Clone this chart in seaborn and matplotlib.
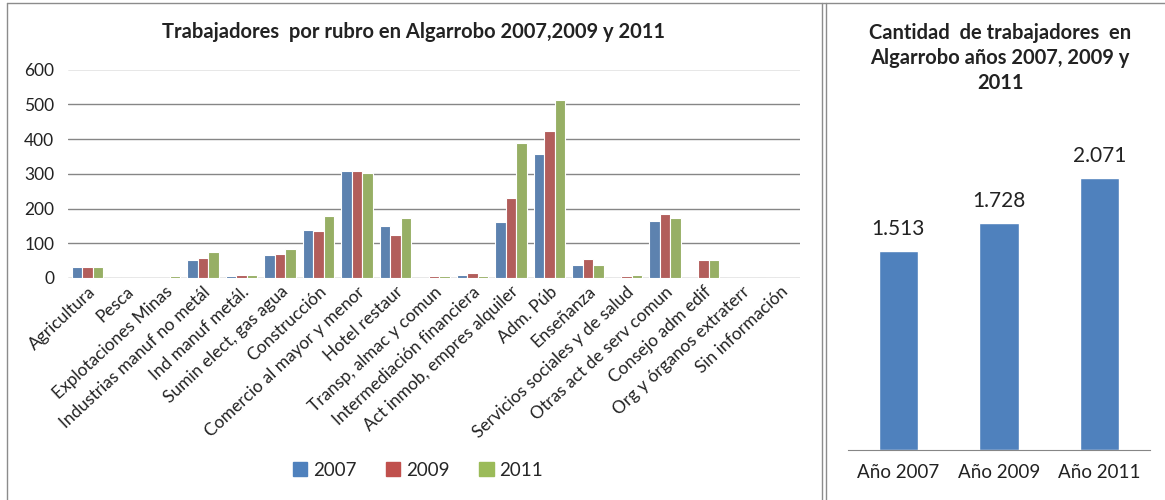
import pandas as pd
import seaborn as sns
import matplotlib.pyplot as plt
from matplotlib.patches import Rectangle
from matplotlib.lines import Line2D

rubros = ['Agricultura', 'Pesca', 'Explotaciones Minas', 'Industrias manuf no metál',
          'Ind manuf metál.', 'Sumin elect, gas agua', 'Construcción',
          'Comercio al mayor y menor', 'Hotel restaur', 'Transp, almac y comun',
          'Intermediación financiera', 'Act inmob, empres alquiler', 'Adm. Púb',
          'Enseñanza', 'Servicios sociales y de salud', 'Otras act de serv comun',
          'Consejo adm edif', 'Org y órganos extraterr', 'Sin información']
v2007 = [33, 0, 0, 52, 5, 65, 138, 307, 151, 0, 10, 160, 356, 37, 0, 165, 0, 0, 0]
v2009 = [33, 0, 0, 57, 10, 70, 134, 307, 124, 6, 15, 229, 424, 55, 5, 183, 52, 0, 0]
v2011 = [33, 0, 5, 74, 10, 83, 179, 301, 174, 5, 5, 389, 511, 37, 8, 174, 52, 0, 0]
years = ['2007', '2009', '2011']

anios = ['Año 2007', 'Año 2009', 'Año 2011']
totales = [1513, 1728, 2071]
total_labels = ['1.513', '1.728', '2.071']

colors = ['#4F81BD', '#C0504D', '#9BBB59']

sns.set_style('white')
plt.rcParams['font.family'] = ['Lato', 'DejaVu Sans']

df = pd.DataFrame({'rubro': rubros * 3,
                   'valor': v2007 + v2009 + v2011,
                   'anio': [y for y in years for _ in rubros]})

fig = plt.figure(figsize=(11.65, 5.0), dpi=100)

# left chart
ax1 = fig.add_axes([0.0584, 0.444, 0.628, 0.417])
sns.barplot(data=df, x='rubro', y='valor', hue='anio', palette=colors,
            width=0.82, edgecolor='white', linewidth=0.8, ax=ax1, legend=False, zorder=3)
ax1.set_ylim(0, 600)
ax1.set_yticks(range(0, 601, 100))
ax1.yaxis.grid(True, color='#868686', linewidth=1.0, zorder=0)
ax1.set_axisbelow(True)
for s in ax1.spines.values():
    s.set_visible(False)
ax1.tick_params(axis='y', length=0, labelsize=12.5, colors='#222222', pad=10)
ax1.set_xticks(range(len(rubros)))
ax1.set_xticklabels(rubros, rotation=43, ha='right', rotation_mode='anchor', fontsize=12.5,
                    color='#222222')
ax1.tick_params(axis='x', length=0, pad=4)
ax1.set_xlabel('')
ax1.set_ylabel('')
ax1.set_xlim(-0.5, len(rubros) - 0.5)
fig.text(413 / 1165, 1 - 32 / 500, 'Trabajadores  por rubro en Algarrobo 2007,2009 y 2011',
         ha='center', va='center', fontsize=14.5, fontweight='bold', color='#222222')

handles = [Rectangle((0, 0), 1, 1, color=c) for c in colors]
fig.legend(handles, years, loc='center', bbox_to_anchor=(418 / 1165, 1 - 470 / 500), ncol=3,
           frameon=False, fontsize=13.5, handlelength=0.75, handleheight=0.75,
           columnspacing=1.6, handletextpad=0.3)

# right chart
ax2 = fig.add_axes([0.728, 0.1, 0.259, 0.656])
sns.barplot(x=anios, y=totales, color=colors[0], width=0.39, ax=ax2, saturation=1)
ax2.set_ylim(0, 2500)
ax2.set_yticks([])
for s in ['top', 'left', 'right']:
    ax2.spines[s].set_visible(False)
ax2.spines['bottom'].set_color('#868686')
ax2.tick_params(axis='x', length=0, labelsize=13.5, pad=10, colors='#222222')
for p, lab in zip(ax2.patches, total_labels):
    ax2.annotate(lab, (p.get_x() + p.get_width() / 2, p.get_height()),
                 xytext=(0, 9), textcoords='offset points', ha='center', va='bottom',
                 fontsize=15, color='#222222')
fig.text(1000 / 1165, 1 - 58 / 500,
         'Cantidad  de trabajadores  en\nAlgarrobo años 2007, 2009 y\n2011',
         ha='center', va='center', fontsize=14.5, fontweight='bold',
         linespacing=1.3, color='#222222')

# panel frames
fig.add_artist(Line2D([7 / 1165, 7 / 1165], [0, 1 - 3 / 500], color='#8c8c8c', lw=1))
fig.add_artist(Line2D([7 / 1165, 1], [1 - 3 / 500, 1 - 3 / 500], color='#8c8c8c', lw=1))
fig.add_artist(Line2D([822 / 1165, 822 / 1165], [0, 1 - 3 / 500], color='#8c8c8c', lw=1))
fig.add_artist(Line2D([826 / 1165, 826 / 1165], [0, 1 - 3 / 500], color='#8c8c8c', lw=1))

plt.savefig('out.png', dpi=100)
plt.close()
